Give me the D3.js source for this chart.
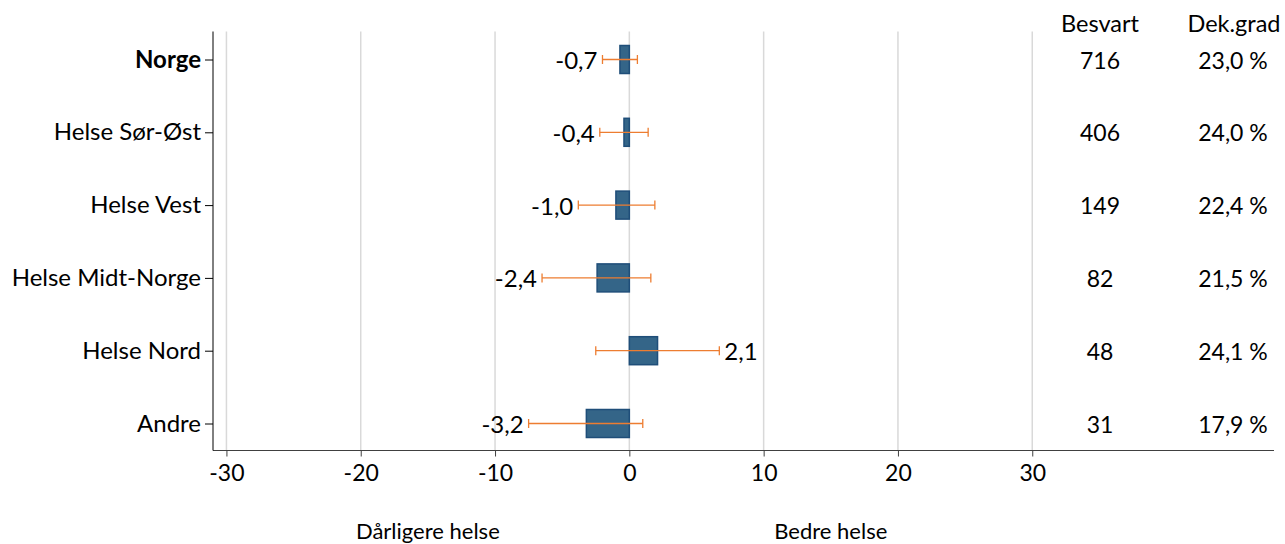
<!DOCTYPE html>
<html>
<head>
<meta charset="utf-8">
<script src="https://cdn.jsdelivr.net/npm/d3@7"></script>
<style>
  html, body { margin: 0; padding: 0; background: #fff; }
  svg { display: block; font-family: Lato, "Open Sans", sans-serif; }
</style>
</head>
<body>
<svg id="chart" width="1285" height="544"></svg>
<script>
const categories = ["Norge", "Helse Sør-Øst", "Helse Vest", "Helse Midt-Norge", "Helse Nord", "Andre"];
const values = [-0.7, -0.4, -1.0, -2.4, 2.1, -3.2];
const ciLow = [-2.0, -2.2, -3.8, -6.5, -2.5, -7.5];
const ciHigh = [0.6, 1.4, 1.9, 1.6, 6.7, 1.0];
const besvart = [716, 406, 149, 82, 48, 31];
const dekgrad = [23.0, 24.0, 22.4, 21.5, 24.1, 17.9];
const xTicks = [-30, -20, -10, 0, 10, 20, 30];
const colHeaders = ["Besvart", "Dek.grad"];
const sideLabels = ["Dårligere helse", "Bedre helse"];

const loc = d3.formatLocale({decimal: ",", thousands: " ", grouping: [3], currency: ["", " kr"], minus: "-"});
const f1 = loc.format(".1f");
const f0 = loc.format("d");

const svg = d3.select("#chart");
const x = d3.scaleLinear().domain([-31, 48]).range([213, 1274]);
const y = d3.scalePoint().domain(categories).range([59.5, 423.5]);
const plotTop = 31.5, plotBottom = 450.5, plotLeft = 213;

// gridlines
svg.append("g").selectAll("line").data(xTicks).join("line")
  .attr("x1", d => x(d)).attr("x2", d => x(d))
  .attr("y1", plotTop).attr("y2", plotBottom)
  .attr("stroke", "#d9d9d9").attr("stroke-width", 1.5);

// x axis
const xAxis = svg.append("g").attr("transform", `translate(0,${plotBottom})`)
  .call(d3.axisBottom(x).tickValues(xTicks).tickFormat(f0).tickSize(6).tickPadding(8).tickSizeOuter(0));
xAxis.select(".domain").attr("stroke", "#404040").attr("d", `M${plotLeft},0H1274`);
xAxis.selectAll(".tick line").attr("stroke", "#404040");
xAxis.selectAll(".tick text").attr("font-size", 23).attr("fill", "#000").attr("font-family", "Lato, sans-serif");

// y axis
const yAxis = svg.append("g").attr("transform", `translate(${plotLeft},0)`)
  .call(d3.axisLeft(y).tickSize(8).tickPadding(4).tickSizeOuter(0));
yAxis.select(".domain").attr("stroke", "#000").attr("d", `M0,${plotTop}V${plotBottom}`);
yAxis.selectAll(".tick line").attr("stroke", "#000");
yAxis.selectAll(".tick text").attr("font-size", 24).attr("fill", "#000")
  .attr("font-family", "Lato, sans-serif")
  .attr("font-weight", d => d === "Norge" ? "bold" : "normal");

// bars
const barH = 28;
svg.append("g").selectAll("rect").data(categories).join("rect")
  .attr("x", (d, i) => Math.min(x(0), x(values[i])))
  .attr("width", (d, i) => Math.abs(x(values[i]) - x(0)))
  .attr("y", d => y(d) - barH / 2)
  .attr("height", barH)
  .attr("fill", "#346588")
  .attr("stroke", "#1f4e79").attr("stroke-width", 1.5);

// error bars
const eb = svg.append("g").attr("stroke", "#ed7d31").attr("stroke-width", 1.3);
categories.forEach((c, i) => {
  const yy = y(c);
  eb.append("line").attr("x1", x(ciLow[i])).attr("x2", x(ciHigh[i])).attr("y1", yy).attr("y2", yy);
  eb.append("line").attr("x1", x(ciLow[i])).attr("x2", x(ciLow[i])).attr("y1", yy - 4.5).attr("y2", yy + 4.5);
  eb.append("line").attr("x1", x(ciHigh[i])).attr("x2", x(ciHigh[i])).attr("y1", yy - 4.5).attr("y2", yy + 4.5);
});

// value labels
svg.append("g").selectAll("text").data(categories).join("text")
  .attr("x", (d, i) => values[i] < 0 ? x(ciLow[i]) - 5 : x(ciHigh[i]) + 5)
  .attr("y", d => y(d) + 1)
  .attr("dy", "0.35em")
  .attr("text-anchor", (d, i) => values[i] < 0 ? "end" : "start")
  .attr("font-size", 24)
  .text((d, i) => f1(values[i]));

// columns
const colX = [1100, 1234];
svg.append("g").selectAll("text").data(colHeaders).join("text")
  .attr("x", (d, i) => colX[i]).attr("y", 32)
  .attr("text-anchor", "middle").attr("font-size", 23.5)
  .text(d => d);
svg.append("g").selectAll("text").data(categories).join("text")
  .attr("x", colX[0]).attr("y", d => y(d) + 1).attr("dy", "0.35em")
  .attr("text-anchor", "middle").attr("font-size", 23)
  .text((d, i) => f0(besvart[i]));
svg.append("g").selectAll("text").data(categories).join("text")
  .attr("x", colX[1] - 1).attr("y", d => y(d) + 1).attr("dy", "0.35em")
  .attr("text-anchor", "middle").attr("font-size", 23)
  .text((d, i) => f1(dekgrad[i]) + " %");

// side labels
const sideX = [(x(-30) + x(0)) / 2, (x(0) + x(30)) / 2];
svg.append("g").selectAll("text").data(sideLabels).join("text")
  .attr("x", (d, i) => sideX[i]).attr("y", 539)
  .attr("text-anchor", "middle").attr("font-size", 22)
  .text(d => d);
</script>
</body>
</html>
